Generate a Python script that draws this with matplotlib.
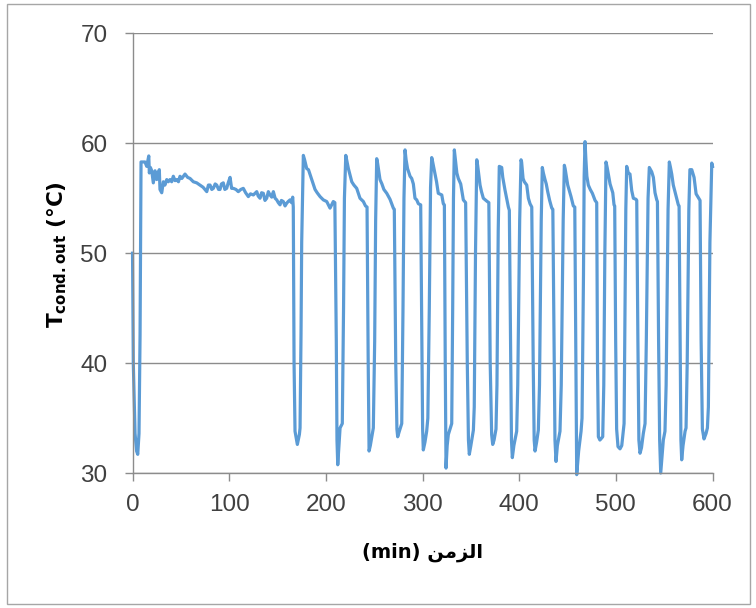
import matplotlib
matplotlib.use('Agg')
from matplotlib import pyplot as plt
from matplotlib.patches import Rectangle

plt.rcParams['font.family'] = ['Liberation Sans', 'DejaVu Sans']
plt.rcParams['mathtext.fontset'] = 'dejavusans'

# Tiempo (min) y temperatura de salida del condensador (°C).
time_min = [
    0, 0.8, 2.6, 4.2, 5.4, 6.7, 7.8, 8.8,
    12.9, 14.7, 16.8, 17.4, 18.5, 19.9, 21.5, 23.3, 25.0, 27.7, 28.4, 30.2,
    31.9, 33.5, 35.4, 37.0, 38.8, 40.5, 42.2, 44.0, 45.7, 47.5, 49.1, 51.0,
    54.3, 57.0, 59.5, 62.9, 66.4, 69.8, 73.0, 76.8, 78.5, 80.2, 82.0, 83.6,
    85.5, 87.1, 89.0, 90.5, 92.0, 93.9, 95.5, 97.4, 99.0, 100.9, 102.5, 104.3,
    107.0, 109.4, 112.0, 114.6, 117.0, 119.8, 122.0, 125.0, 128.5, 130.0,
    131.9, 133.5, 135.3, 137.0, 138.8, 140.5, 142.2, 144.0, 145.7, 147.5,
    149.2, 150.8, 152.6, 154.0, 156.0, 157.8, 159.5, 161.0, 162.9, 164.5, 165.7,
    166.3, 167.1, 168.1, 170.5, 172.6, 173.3, 174.3, 175.0, 176.7, 178.0, 180.2,
    182.0, 185.4, 188.8, 191.0, 194.0, 197.4, 200.9, 204.3, 207.7, 209.3,
    210.8, 211.5, 212.3, 213.5, 214.7, 217.0, 218.3, 219.2, 220.6, 221.5, 223.3,
    226.8, 229.0, 231.9, 235.3, 238.8, 241.0, 242.6,
    243.8, 244.7, 246.0, 249.1, 250.5, 251.5, 252.6, 253.5, 256.0, 258.0, 260.0,
    263.0, 266.4, 269.8, 270.8,
    272.3, 273.5, 274.3, 276.0, 278.5, 279.8, 280.8, 281.9, 283.0, 284.5, 287.1,
    288.8, 290.5, 292.2, 294.0, 295.7, 298.1,
    299.3, 300.1, 300.8, 302.5, 304.3, 305.5, 307.0, 308.3, 309.5, 310.5, 312.9,
    314.5, 316.3, 319.9, 321.5, 322.6,
    323.5, 324.3, 325.5, 326.7, 330.2, 331.2, 332.0, 332.9, 334.0, 335.5, 337.0,
    339.5, 342.2, 344.6,
    346.3, 347.5, 348.4, 350.0, 352.6, 353.5, 354.8, 356.1, 357.0, 359.5, 361.0,
    362.9, 367.0, 368.6,
    370.0, 371.5, 372.6, 374.0, 376.0, 377.0, 378.3, 379.4, 381.9, 383.0, 385.3,
    387.0, 388.8, 389.8,
    391.0, 392.0, 392.9, 394.5, 397.4, 398.5, 400.5, 401.9, 402.5, 404.0, 405.3,
    407.8, 409.5, 411.2, 413.0,
    414.5, 415.5, 416.4, 418.0, 419.8, 421.0, 422.8, 423.9, 425.0, 426.7, 428.0,
    429.5, 431.5, 433.7, 434.8,
    436.0, 437.0, 438.1, 439.5, 442.2, 443.5, 445.5, 446.7, 447.5, 450.2, 453.6,
    456.0, 457.5,
    458.6, 459.5, 461.5, 464.0, 465.0, 466.5, 467.2, 468.1, 469.0, 470.0, 471.5,
    473.5, 475.7, 478.5, 480.2,
    481.0, 481.9, 483.5, 486.4, 487.5, 488.6, 489.8, 491.0, 492.2, 494.0, 496.8,
    498.1, 498.8,
    499.8, 500.8, 502.2, 504.3, 506.1, 508.5, 509.5, 510.3, 511.2, 512.9, 514.6,
    516.4, 518.1, 520.9, 521.6,
    522.8, 523.8, 525.0, 526.5, 528.4, 530.2, 531.5, 533.3, 534.6, 537.1, 538.8,
    540.5, 542.3, 543.0,
    544.2, 545.3, 546.4, 548.0, 549.1, 550.8, 552.0, 554.0, 555.3, 556.5, 557.8,
    559.4, 562.3, 564.6, 565.4,
    566.5, 567.3, 568.1, 569.5, 571.6, 572.6, 573.8, 575.5, 576.6, 578.5, 580.9,
    583.0, 584.4, 586.5, 587.1,
    588.2, 589.5, 591.2, 593.3, 594.7, 595.7, 597.3, 599.2, 600.0,
]
t_cond_out = [
    50.0, 40.0, 33.6, 32.0, 31.7, 33.6, 42.6, 58.3,
    58.3, 57.9, 58.85, 57.3, 57.8, 57.5, 56.4, 57.5, 56.7, 57.6, 55.8, 55.5,
    56.5, 56.2, 56.7, 56.5, 56.7, 56.5, 57.0, 56.6, 56.7, 56.5, 57.0, 56.8,
    57.2, 56.9, 56.8, 56.5, 56.4, 56.2, 56.0, 55.6, 56.2, 56.2, 55.8, 55.9,
    56.3, 56.2, 55.8, 55.8, 56.3, 56.4, 55.8, 55.9, 56.4, 56.9, 55.9, 55.9,
    55.8, 55.6, 55.8, 55.9, 55.5, 55.15, 55.4, 55.3, 55.6, 55.2,
    55.0, 55.5, 55.45, 54.8, 55.0, 55.6, 55.3, 55.1, 55.6, 55.0,
    54.85, 54.6, 54.4, 54.8, 54.7, 54.3, 54.55, 54.7, 54.85, 54.6, 55.1,
    54.2, 40.0, 33.8, 32.6, 33.5, 34.1, 42.6, 51.0, 58.9, 58.5, 57.7,
    57.6, 56.7, 55.8, 55.5, 55.15, 54.85, 54.7, 54.1, 54.7, 54.6,
    42.0, 33.0, 30.75, 32.5, 34.1, 34.5, 45.0, 55.0, 58.9, 58.5, 57.7,
    56.5, 56.2, 55.9, 55.0, 54.7, 54.3, 54.2,
    40.0, 32.0, 32.5, 34.1, 42.0, 53.0, 58.6, 58.2, 56.7, 56.3, 55.8,
    55.45, 54.9, 54.1, 54.0,
    40.0, 34.0, 33.3, 33.8, 34.5, 45.0, 55.0, 59.4, 58.5, 57.7, 57.0,
    56.8, 56.3, 55.0, 54.85, 54.5, 54.4,
    42.0, 34.0, 32.1, 32.8, 33.8, 35.0, 45.0, 56.0, 58.7, 58.3, 57.2,
    56.5, 55.45, 55.3, 54.5, 54.4,
    40.0, 30.45, 32.5, 33.5, 34.5, 45.0, 55.0, 59.4, 58.5, 57.3, 56.8,
    56.3, 54.85, 54.6,
    40.0, 33.0, 31.7, 32.5, 33.9, 36.0, 50.0, 58.5, 58.0, 56.2, 55.6,
    55.0, 54.7, 54.6,
    40.0, 33.5, 32.6, 33.0, 34.0, 38.0, 52.0, 57.9, 57.8, 56.9, 55.75,
    55.0, 54.2, 53.9,
    42.0, 33.0, 31.4, 32.5, 33.8, 38.0, 53.0, 58.5, 58.3, 56.8, 56.5,
    56.2, 55.0, 54.5, 54.2,
    40.0, 33.0, 32.0, 32.8, 33.9, 38.0, 53.0, 57.8, 57.3, 56.7, 56.3,
    55.6, 54.8, 54.1, 54.0,
    42.0, 33.0, 31.05, 32.5, 33.8, 38.0, 53.0, 58.0, 57.7, 56.2, 55.15,
    54.3, 54.2,
    40.0, 29.85, 32.0, 33.8, 35.0, 48.0, 57.0, 60.15, 58.5, 57.0, 56.2,
    55.8, 55.45, 54.8, 54.6,
    40.0, 33.3, 33.0, 33.3, 38.0, 50.0, 58.3, 57.8, 57.2, 56.3, 55.5,
    54.4, 54.3,
    42.0, 34.0, 32.4, 32.2, 32.5, 34.5, 45.0, 54.0, 57.9, 57.3, 57.2,
    55.7, 55.0, 54.9, 54.8,
    42.0, 33.0, 31.8, 32.3, 33.6, 34.5, 42.0, 55.0, 57.8, 57.4, 56.9,
    55.5, 54.85, 54.7,
    42.0, 33.0, 30.0, 31.8, 33.0, 33.8, 38.0, 54.0, 58.3, 57.8, 57.2,
    56.2, 55.2, 54.4, 54.3,
    42.0, 33.0, 31.2, 32.5, 33.8, 34.1, 40.0, 54.0, 57.6, 57.6, 56.9,
    55.4, 55.2, 54.9, 54.8,
    42.0, 34.0, 33.1, 33.6, 34.1, 36.0, 51.0, 58.2, 57.9,
]

x_ticks = [0, 100, 200, 300, 400, 500, 600]
y_ticks = [30, 40, 50, 60, 70]
# "الزمن (min)" escrito en formas de presentacion, orden visual
x_label = '(min) \ufee6\ufee3\ufeb0\ufedf\ufe8d'
y_label = r'$\mathbf{T_{cond.out}}$ (°C)'

fig = plt.figure(figsize=(7.56, 6.08), dpi=100)
ax = fig.add_axes([0.1753, 0.222, 0.7672, 0.7231])

ax.plot(time_min, t_cond_out, color='#5B9BD5', lw=2.3, solid_joinstyle='round', clip_on=False)

ax.set_xlim(0, 600)
ax.set_ylim(30, 70)
ax.set_xticks(x_ticks)
ax.set_yticks(y_ticks)
ax.grid(axis='y', color='#8c8c8c', lw=1.0)
ax.set_axisbelow(True)
for s in ['top', 'right']:
    ax.spines[s].set_visible(False)
for s in ['left', 'bottom']:
    ax.spines[s].set_color('#8c8c8c')
    ax.spines[s].set_linewidth(1.0)
ax.tick_params(axis='y', direction='out', length=6, width=1, color='#8c8c8c',
               labelsize=17.5, labelcolor='#404040', pad=12)
ax.tick_params(axis='x', direction='out', length=6, width=1, color='#8c8c8c',
               labelsize=17.5, labelcolor='#404040', pad=9)

fig.text(422.5 / 756, 1 - 552 / 608, x_label, ha='center', va='center',
         fontsize=14, fontweight='bold', family=['DejaVu Sans'])
fig.text(57 / 756, 1 - 255 / 608, y_label, ha='center', va='center',
         rotation=90, fontsize=15.5, fontweight='bold', family=['DejaVu Sans'])

fig.patches.append(Rectangle((6.5 / 756, 4 / 608), 743 / 756, 600.5 / 608,
                             transform=fig.transFigure, fill=False,
                             edgecolor='#a6a6a6', lw=1.0))

fig.savefig('out.png', dpi=100)
